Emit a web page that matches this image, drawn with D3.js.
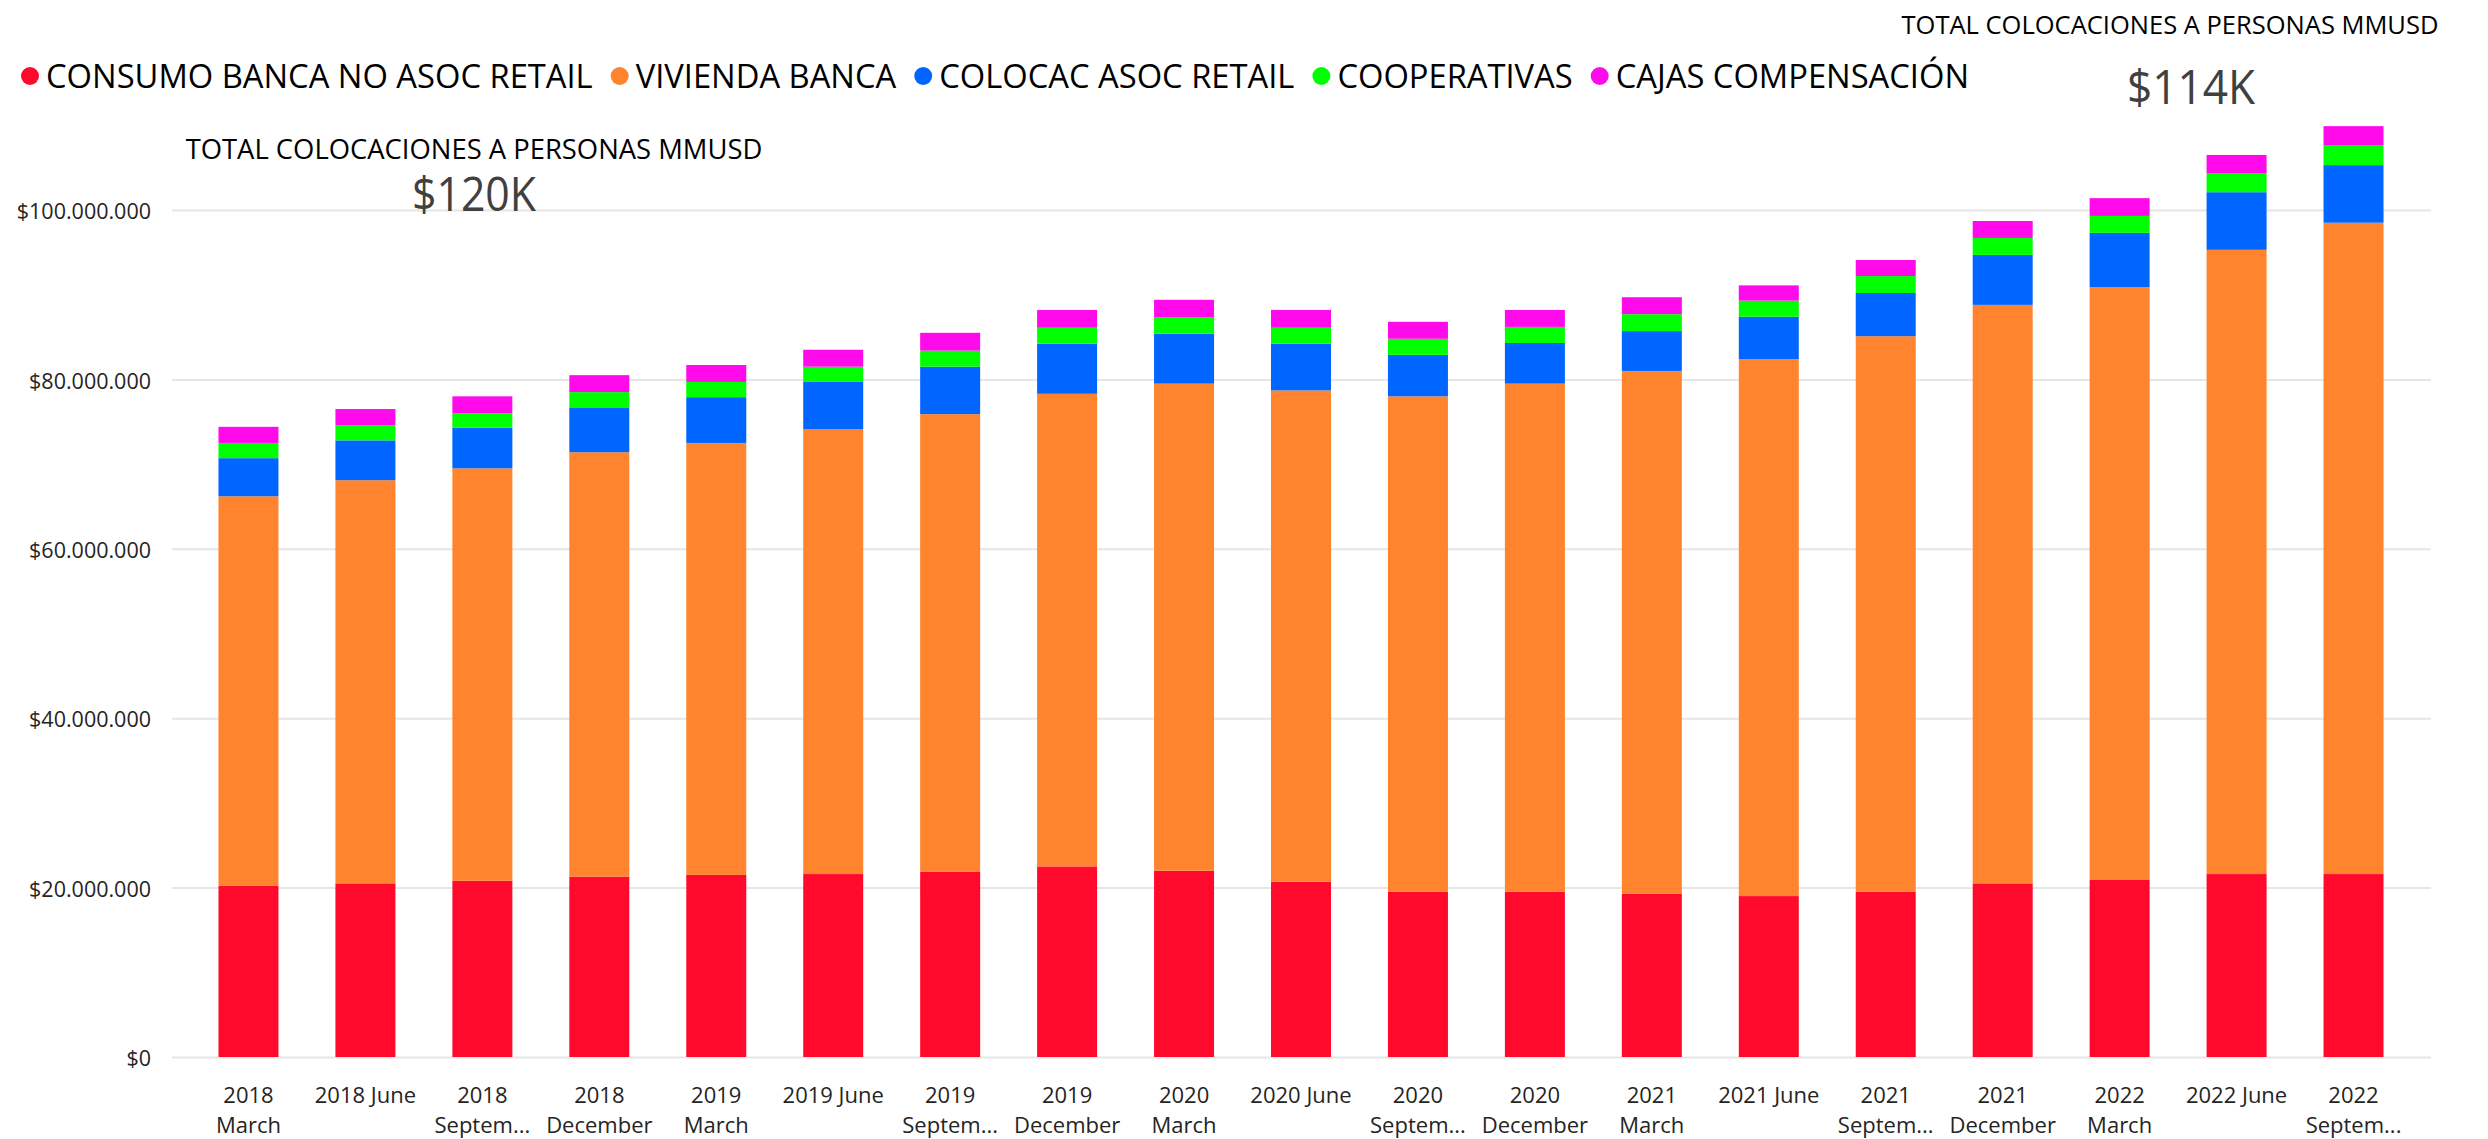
<!DOCTYPE html>
<html>
<head>
<meta charset="utf-8">
<script src="https://cdn.jsdelivr.net/npm/d3@7"></script>
<style>
  html, body { margin: 0; padding: 0; background: #ffffff; }
  svg { display: block; }
  text { font-family: "Open Sans", "Liberation Sans", Arial, sans-serif; }
</style>
</head>
<body>
<svg id="chart" width="2488" height="1139"></svg>
<script>
// ---------------- DATA ----------------
const categories = ["2018 March","2018 June","2018 September","2018 December",
  "2019 March","2019 June","2019 September","2019 December",
  "2020 March","2020 June","2020 September","2020 December",
  "2021 March","2021 June","2021 September","2021 December",
  "2022 March","2022 June","2022 September"];

const tickLabels = [["2018","March"],["2018 June"],["2018","Septem..."],["2018","December"],
  ["2019","March"],["2019 June"],["2019","Septem..."],["2019","December"],
  ["2020","March"],["2020 June"],["2020","Septem..."],["2020","December"],
  ["2021","March"],["2021 June"],["2021","Septem..."],["2021","December"],
  ["2022","March"],["2022 June"],["2022","Septem..."]];

const seriesNames = ["CONSUMO BANCA NO ASOC RETAIL","VIVIENDA BANCA","COLOCAC ASOC RETAIL","COOPERATIVAS","CAJAS COMPENSACIÓN"];
const seriesColors = ["#FF0A2C","#FF842D","#0066FF","#00FF00","#FF0AEB"];

// values in millions of $
const consumoBanca = [20.2,20.5,20.8,21.3,21.5,21.6,21.9,22.5,22.0,20.7,19.5,19.5,19.3,19.0,19.5,20.5,20.9,21.6,21.6];
const viviendaBanca = [46.0,47.6,48.7,50.1,51.0,52.5,54.0,55.8,57.5,58.0,58.5,60.0,61.7,63.4,65.6,68.3,70.0,73.7,76.9];
const colocacAsocRetail = [4.5,4.7,4.8,5.3,5.4,5.6,5.6,5.9,5.9,5.5,4.9,4.8,4.7,5.0,5.1,5.9,6.4,6.8,6.8];
const cooperativas = [1.8,1.8,1.7,1.8,1.8,1.8,1.9,1.9,1.9,1.9,1.9,1.9,2.0,1.9,2.0,2.0,2.0,2.2,2.3];
const cajasCompensacion = [1.9,1.9,2.0,2.0,2.0,2.0,2.1,2.1,2.1,2.1,2.0,2.0,2.0,1.8,1.9,2.0,2.1,2.2,2.3];
const UNIT = 1e6;

const yTicks = [0, 20e6, 40e6, 60e6, 80e6, 100e6];

const cardTitle = "TOTAL COLOCACIONES A PERSONAS MMUSD";
const cardValueLeft = "$120K";
const cardValueRight = "$114K";

// ---------------- BUILD ----------------
const seriesArrays = [consumoBanca, viviendaBanca, colocacAsocRetail, cooperativas, cajasCompensacion];
const table = categories.map((c, i) => {
  const row = { cat: c };
  seriesNames.forEach((s, k) => row[s] = seriesArrays[k][i] * UNIT);
  return row;
});

const svg = d3.select("#chart");

const plotLeft = 172, plotRight = 2431;
const x = d3.scaleBand().domain(categories).range([190, 2412]).paddingInner(0.487).paddingOuter(0.2435);
const y = d3.scaleLinear().domain([0, 100e6]).range([1057, 210]);

const locale = d3.formatLocale({decimal: ",", thousands: ".", grouping: [3], currency: ["$", ""]});
const fmt = locale.format("$,.0f");

// grid + y axis
const yAxisG = svg.append("g").attr("transform", `translate(${plotLeft},0)`)
  .call(d3.axisLeft(y).tickValues(yTicks).tickFormat(fmt).tickSize(-(plotRight - plotLeft)).tickPadding(21));
yAxisG.select(".domain").remove();
yAxisG.selectAll(".tick line").attr("stroke", "#e6e6e6").attr("stroke-width", 2);
yAxisG.selectAll(".tick text").attr("font-size", 21.5).attr("fill", "#252423")
  .attr("font-family", "'Open Sans', sans-serif").attr("dy", "0.4em");

// bars
const stack = d3.stack().keys(seriesNames);
const stacked = stack(table);
const color = d3.scaleOrdinal().domain(seriesNames).range(seriesColors);

svg.append("g").selectAll("g").data(stacked).join("g")
  .attr("fill", d => color(d.key))
  .selectAll("rect").data(d => d).join("rect")
  .attr("x", d => x(d.data.cat))
  .attr("width", x.bandwidth())
  .attr("y", d => y(d[1]))
  .attr("height", d => y(d[0]) - y(d[1]));

// x axis
const xAxisG = svg.append("g").attr("transform", `translate(0,1057)`)
  .call(d3.axisBottom(x).tickSize(0).tickPadding(0));
xAxisG.select(".domain").remove();
xAxisG.selectAll(".tick text").each(function(d, i) {
  const t = d3.select(this);
  t.text(null).attr("font-size", 22).attr("fill", "#252423")
    .attr("font-family", "'Open Sans', sans-serif").attr("y", 0).attr("dy", null);
  tickLabels[i].forEach((line, j) => {
    t.append("tspan").attr("x", 0).attr("y", 46 + j * 30).text(line);
  });
});

// legend
const legend = svg.append("g");
let lx = 21;
seriesNames.forEach((s, k) => {
  legend.append("circle").attr("cx", lx + 9).attr("cy", 76).attr("r", 9).attr("fill", seriesColors[k]);
  const t = legend.append("text").attr("x", lx + 25).attr("y", 88)
    .attr("font-size", 32.7).attr("fill", "#000").text(s);
  const w = t.node().getComputedTextLength();
  lx = lx + 25 + w + 18;
});

// cards
svg.append("text").attr("x", 474).attr("y", 159).attr("text-anchor", "middle")
  .attr("font-size", 27.4).attr("fill", "#000").text(cardTitle);
svg.append("text").attr("x", 474).attr("y", 211).attr("text-anchor", "middle")
  .attr("font-size", 47).attr("fill", "#404040")
  .attr("textLength", 124).attr("lengthAdjust", "spacingAndGlyphs").text(cardValueLeft);

svg.append("text").attr("x", 2170).attr("y", 34).attr("text-anchor", "middle")
  .attr("font-size", 25.5).attr("fill", "#000").text(cardTitle);
svg.append("text").attr("x", 2191).attr("y", 104).attr("text-anchor", "middle")
  .attr("font-size", 47).attr("fill", "#404040")
  .attr("textLength", 128).attr("lengthAdjust", "spacingAndGlyphs").text(cardValueRight);
</script>
</body>
</html>
